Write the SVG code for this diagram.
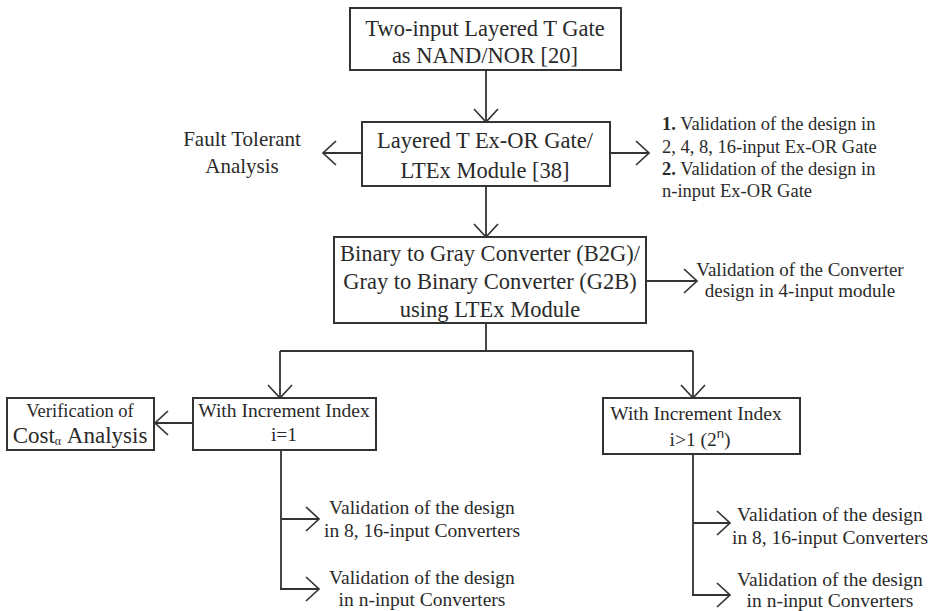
<svg xmlns="http://www.w3.org/2000/svg" width="936" height="611" viewBox="0 0 936 611">
<defs>
<marker id="arr" markerUnits="userSpaceOnUse" markerWidth="30" markerHeight="30" viewBox="-15 -15 30 30" refX="0" refY="0" orient="auto" overflow="visible">
<path d="M-13,-12 L0,0 L-13,12" fill="none" stroke="#333" stroke-width="1.7"/>
</marker>
<style>
.box{fill:#fff;stroke:#333;stroke-width:2}
.t{font-family:"Liberation Serif","Times New Roman",serif;fill:#2a2a2a;text-anchor:middle}
.tl{font-family:"Liberation Serif","Times New Roman",serif;fill:#2a2a2a}
.big{font-size:22.5px}
.mid{font-size:19.5px}
.sm{font-size:18.5px}
.c{fill:none;stroke:#333;stroke-width:1.8}
.ca{fill:none;stroke:#333;stroke-width:1.8;marker-end:url(#arr)}
</style>
</defs>
<rect width="936" height="611" fill="#fff"/>
<g id="connectors">
<path class="ca" d="M486,70 V122"/>
<path class="ca" d="M362,153 H323"/>
<path class="ca" d="M610,153 H649"/>
<path class="ca" d="M486,186 V237"/>
<path class="ca" d="M646,281 H697"/>
<path class="c" d="M486,323 V351 M280,351 H693"/>
<path class="ca" d="M280,351 V398"/>
<path class="ca" d="M693,351 V398"/>
<path class="ca" d="M193,423 H155"/>
<path class="c" d="M281,450 V589"/>
<path class="ca" d="M281,519 H319"/>
<path class="ca" d="M280,589 H319"/>
<path class="c" d="M693,454 V595"/>
<path class="ca" d="M693,523 H730"/>
<path class="ca" d="M692,595 H730"/>
</g>
<g id="n1">
<rect class="box" x="350" y="8" width="271" height="62"/>
<text class="t big" x="485" y="36">Two-input Layered T Gate</text>
<text class="t big" x="485" y="63">as NAND/NOR [20]</text>
</g>
<g id="n2">
<rect class="box" x="362" y="122" width="248" height="64"/>
<text class="t big" x="485" y="148">Layered T Ex-OR Gate/</text>
<text class="t big" x="485" y="178">LTEx Module [38]</text>
</g>
<g id="n_fault">
<text class="t" font-size="21" x="242" y="146">Fault Tolerant</text>
<text class="t" font-size="21" x="242" y="173">Analysis</text>
</g>
<g id="n_valid1">
<text class="tl sm" x="662" y="130"><tspan font-weight="bold">1.</tspan> Validation of the design in</text>
<text class="tl sm" x="662" y="152.5">2, 4, 8, 16-input Ex-OR Gate</text>
<text class="tl sm" x="662" y="174.5"><tspan font-weight="bold">2.</tspan> Validation of the design in</text>
<text class="tl sm" x="662" y="196.5">n-input Ex-OR Gate</text>
</g>
<g id="n3">
<rect class="box" x="334" y="237" width="312" height="86"/>
<text class="t big" x="490" y="261">Binary to Gray Converter (B2G)/</text>
<text class="t big" x="490" y="289">Gray to Binary Converter (G2B)</text>
<text class="t big" x="490" y="317">using LTEx Module</text>
</g>
<g id="n_conv">
<text class="t" font-size="19" x="800" y="276">Validation of the Converter</text>
<text class="t" font-size="19" x="800" y="297">design in 4-input module</text>
</g>
<g id="n_cost">
<rect class="box" x="7" y="398" width="147" height="52"/>
<text class="t sm" x="80" y="417">Verification of</text>
<text class="t" font-size="23" x="80" y="443">Cost<tspan font-size="12" dy="2">α</tspan><tspan dy="-2"> Analysis</tspan></text>
</g>
<g id="n_i1">
<rect class="box" x="193" y="398" width="183" height="52"/>
<text class="t mid" x="284" y="417">With Increment Index</text>
<text class="t mid" x="284" y="441">i=1</text>
</g>
<g id="n_igt1">
<rect class="box" x="603" y="398" width="197" height="56"/>
<text class="t mid" x="696" y="420">With Increment Index</text>
<text class="t mid" x="700" y="446">i&gt;1 (2<tspan font-family="Liberation Sans,Arial,sans-serif" font-size="13" dy="-8">n</tspan><tspan dy="8">)</tspan></text>
</g>
<g id="n_l1">
<text class="t mid" x="422" y="514">Validation of the design</text>
<text class="t mid" x="422" y="537">in 8, 16-input Converters</text>
</g>
<g id="n_l2">
<text class="t mid" x="422" y="584">Validation of the design</text>
<text class="t mid" x="422" y="606">in n-input Converters</text>
</g>
<g id="n_r1">
<text class="t mid" x="830" y="521">Validation of the design</text>
<text class="t mid" x="830" y="544">in 8, 16-input Converters</text>
</g>
<g id="n_r2">
<text class="t mid" x="830" y="586">Validation of the design</text>
<text class="t mid" x="830" y="607">in n-input Converters</text>
</g>
</svg>
